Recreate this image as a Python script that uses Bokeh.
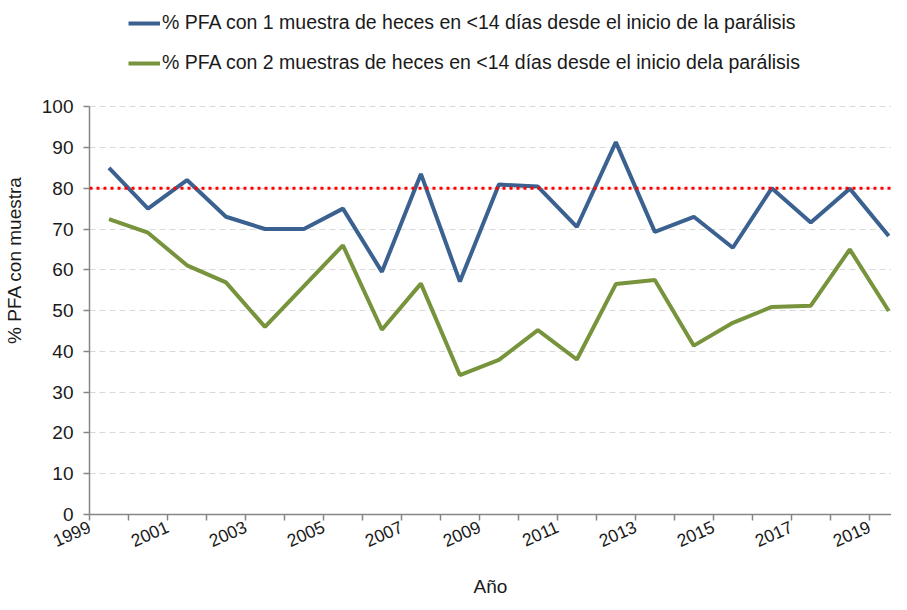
from bokeh.plotting import figure
from bokeh.models import (ColumnDataSource, Range1d, FixedTicker, Span, Legend, LegendItem)
from bokeh.embed import file_html
from bokeh.resources import INLINE

years = list(range(1999, 2020))
pct_one_sample = [85.0, 75.0, 82.0, 73.0, 70.0, 70.0, 75.0, 59.5, 83.5, 57.1, 80.9,
                  80.4, 70.5, 91.3, 69.3, 73.0, 65.4, 80.0, 71.6, 79.9, 68.3]
pct_two_samples = [72.4, 69.1, 61.1, 56.9, 46.0, 56.0, 66.0, 45.3, 56.6, 34.2, 37.9,
                   45.2, 38.0, 56.5, 57.5, 41.4, 47.0, 50.9, 51.2, 65.0, 49.9]
target = 80
label_one = "% PFA con 1 muestra de heces en <14 días desde el inicio de la parálisis"
label_two = "% PFA con 2 muestras de heces en <14 días desde el inicio dela parálisis"
tick_years = years[::2]
tick_labels = [str(y) for y in tick_years]
y_ticks = list(range(0, 101, 10))

FONT = "Liberation Sans"
BLUE = "#3B6190"
GREEN = "#77933C"
AXIS = "#868686"
TXT = "#1a1a1a"

src = ColumnDataSource(dict(year=years, one=pct_one_sample, two=pct_two_samples))

# the y range extends above 100 to leave room for the legend inside the frame;
# the axis itself is bounded to 0-100
p = figure(width=891, height=600, output_backend="svg", toolbar_location=None,
           x_range=Range1d(1998.5, 2019.07), y_range=Range1d(0, 124.8),
           min_border_left=86, min_border_right=0, min_border_top=5, min_border_bottom=86)
p.outline_line_color = None
p.background_fill_color = "white"
p.border_fill_color = "white"

r1 = p.line("year", "one", source=src, line_color=BLUE, line_width=4)
r2 = p.line("year", "two", source=src, line_color=GREEN, line_width=4)

p.add_layout(Span(location=target, dimension="width", line_color="#FF0000",
                  line_width=3, line_dash="3 4"))

# x axis: Excel-style category axis, boundaries ticked, labels ending at centres
boundaries = [y - 0.5 for y in years]
label_pos = [y - 0.5 for y in tick_years]
p.xaxis.ticker = FixedTicker(ticks=label_pos, minor_ticks=boundaries)
p.xaxis.major_label_overrides = {t: l for t, l in zip(label_pos, tick_labels)}
p.xaxis.major_tick_out = 0
p.xaxis.major_tick_in = 0
p.xaxis.major_tick_line_color = None
p.xaxis.minor_tick_out = 6
p.xaxis.minor_tick_in = 0
p.xaxis.minor_tick_line_color = AXIS
p.xaxis.minor_tick_line_width = 1.5
p.xaxis.axis_line_color = AXIS
p.xaxis.axis_line_width = 1.5
p.xaxis.major_label_orientation = 0.42
p.xaxis.major_label_standoff = 5
p.xaxis.axis_label = "Año"
p.xaxis.axis_label_standoff = 20

# y axis
p.yaxis.ticker = FixedTicker(ticks=y_ticks)
p.yaxis.bounds = (0, 100)
p.yaxis.major_tick_out = 6
p.yaxis.major_tick_in = 0
p.yaxis.minor_tick_line_color = None
p.yaxis.major_tick_line_color = AXIS
p.yaxis.major_tick_line_width = 1.5
p.yaxis.axis_line_color = AXIS
p.yaxis.axis_line_width = 1.5
p.yaxis.major_label_standoff = 10
p.yaxis.axis_label = "% PFA con muestra"
p.yaxis.axis_label_standoff = 14

for ax in (p.xaxis[0], p.yaxis[0]):
    ax.major_label_text_font = FONT
    ax.major_label_text_font_size = "19px"
    ax.major_label_text_color = TXT
    ax.axis_label_text_font = FONT
    ax.axis_label_text_font_size = "19px"
    ax.axis_label_text_font_style = "normal"
    ax.axis_label_text_color = TXT
p.xaxis.major_label_text_font_size = "17.5px"

p.xgrid.grid_line_color = None
p.ygrid.ticker = FixedTicker(ticks=y_ticks)
p.ygrid.grid_line_color = "#D9D9D9"
p.ygrid.grid_line_dash = "6 4"
p.ygrid.grid_line_width = 1

legend = Legend(items=[LegendItem(label=label_one, renderers=[r1]),
                       LegendItem(label=label_two, renderers=[r2])],
                location=(39, 440), orientation="vertical",
                glyph_width=32, glyph_height=22, label_height=22, spacing=17,
                label_standoff=2, padding=0, margin=0,
                label_text_font=FONT, label_text_font_size="19.5px",
                label_text_color=TXT,
                background_fill_alpha=0, border_line_color=None)
p.add_layout(legend)

open("out.html", "w").write(file_html(p, INLINE))
